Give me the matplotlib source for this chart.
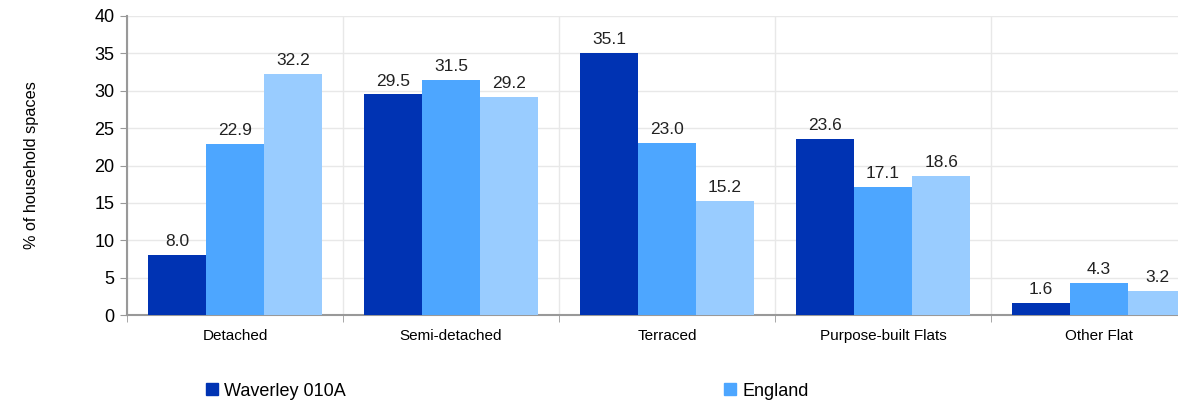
import matplotlib.pyplot as plt
import matplotlib.patches as mpatches
import numpy as np

plt.rcParams['font.family'] = ['Liberation Sans', 'DejaVu Sans']

categories = ['Detached', 'Semi-detached', 'Terraced', 'Purpose-built Flats', 'Other Flat']
waverley = [8.0, 29.5, 35.1, 23.6, 1.6]
england = [22.9, 31.5, 23.0, 17.1, 4.3]
third = [32.2, 29.2, 15.2, 18.6, 3.2]

series = [waverley, england, third]
colors = ['#0033b3', '#4da6ff', '#99ccff']
legend_names = ['Waverley 010A', 'England']

fig = plt.figure(figsize=(11.78, 4.03), dpi=100)
ax = fig.add_axes([127 / 1178, 1 - 315 / 403, 1 - 127 / 1178, (315 - 16) / 403])

x = np.arange(len(categories))
w = 0.269
for i, (vals, c) in enumerate(zip(series, colors)):
    pos = x + (i - 1) * w
    ax.bar(pos, vals, width=w, color=c, zorder=3)
    for p, v in zip(pos, vals):
        ax.text(p, v + 0.8, f'{v:.1f}', ha='center', va='bottom', fontsize=12.5, color='#222222')

ax.set_yticks(range(0, 41, 5))
ax.set_xticks(x)
ax.set_xticklabels(categories, fontsize=11)
ax.set_xticks(np.arange(-0.5, 5, 1), minor=True)
ax.set_ylim(0, 40)
ax.set_xlim(-0.5, 4.5 - 29 / 216)
ax.tick_params(axis='x', which='major', length=0, pad=10)
ax.tick_params(axis='x', which='minor', length=5, color='#999999', direction='out')
ax.tick_params(axis='y', length=5, color='#999999', labelsize=13, pad=4)
ax.grid(axis='y', color='#e8e8e8', linewidth=1, zorder=0)
ax.grid(axis='x', which='minor', color='#e8e8e8', linewidth=1, zorder=0)
for s in ['top', 'right']:
    ax.spines[s].set_visible(False)
for s in ['left', 'bottom']:
    ax.spines[s].set_color('#999999')
    ax.spines[s].set_linewidth(1.5)

ax.set_ylabel('% of household spaces', fontsize=11.7, labelpad=40)

for name, c, xpos in zip(legend_names, colors, [197 / 1178, 715 / 1178]):
    fig.legend(handles=[mpatches.Patch(color=c, label=name)], loc='center left',
               bbox_to_anchor=(xpos, 1 - 391 / 403), frameon=False, fontsize=13,
               handlelength=0.65, handleheight=0.65, handletextpad=0.35, borderpad=0)

fig.savefig('out.png', dpi=100)
